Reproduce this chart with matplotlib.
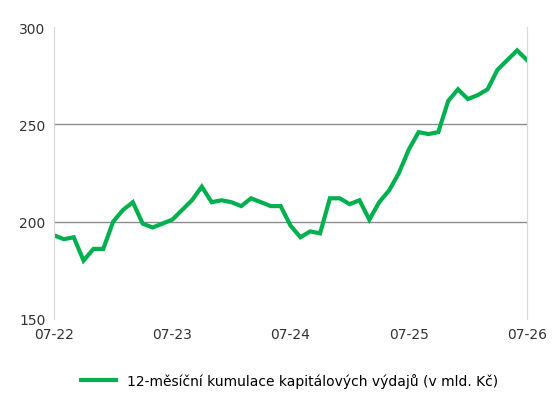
import matplotlib.pyplot as plt
import numpy as np

TICK_LABELS = ["07-22", "07-23", "07-24", "07-25", "07-26"]
VALUES = [
    193, 191, 192, 180, 186, 186, 200, 206, 210, 199, 197, 199,
    201, 206, 211, 218, 210, 211, 210, 208, 212, 210, 208, 208,
    198, 192, 195, 194, 212, 212, 209, 211, 201, 210, 216, 225,
    237, 246, 245, 246, 262, 268, 263, 265, 268, 278, 283, 288, 283,
]
LABEL = "12-měsíční kumulace kapitálových výdajů (v mld. Kč)"

fig = plt.figure(figsize=(5.57, 4.14), dpi=100)
ax = fig.add_axes([54 / 557, 1 - 320 / 414, 473 / 557, 292 / 414])
x = np.arange(len(VALUES))
ax.plot(x, VALUES, color="#00b04f", lw=3, label=LABEL, solid_joinstyle="miter")

ax.set_xlim(0, 48)
ax.set_ylim(150, 300)
ax.set_yticks([150, 200, 250, 300])
ax.set_xticks([0, 12, 24, 36, 48], TICK_LABELS)
for v in (200, 250):
    ax.axhline(v, color="#8c8c8c", lw=1, zorder=0)
for s in ("top", "bottom"):
    ax.spines[s].set_visible(False)
for s in ("left", "right"):
    ax.spines[s].set_color("#d9d9d9")
ax.tick_params(length=0, labelsize=10, colors="#333333", pad=6)

fig.legend(loc="lower center", bbox_to_anchor=(0.52, 0.03), frameon=False,
           fontsize=10, handlelength=2.5)
fig.savefig("out.png", dpi=100)
